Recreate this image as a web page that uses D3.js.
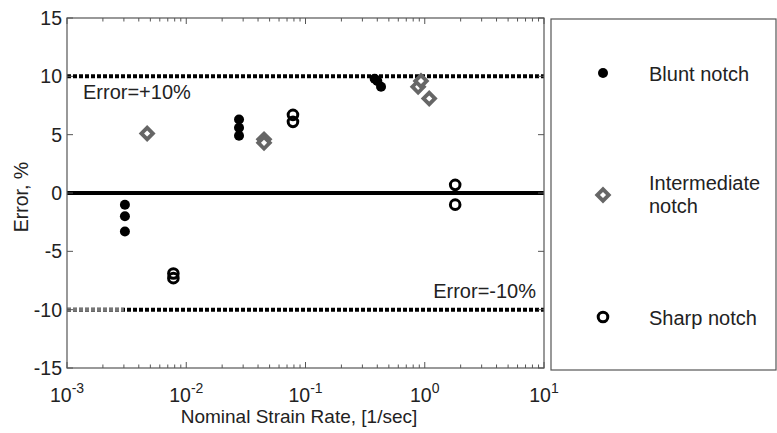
<!DOCTYPE html>
<html><head><meta charset="utf-8">
<script src="https://cdn.jsdelivr.net/npm/d3@7"></script>
<style>body{margin:0;background:#fff}svg{display:block}text{font-family:"Liberation Sans",Arial,sans-serif;fill:#222}</style>
</head><body><svg id="c" width="777" height="433"></svg>
<script>
// Data
const bluntX = [0.00306, 0.00306, 0.00306, 0.0277, 0.0277, 0.0277, 0.38, 0.40, 0.43];
const bluntY = [-1.0, -2.0, -3.3, 6.3, 5.6, 4.9, 9.8, 9.6, 9.1];
const interX = [0.0047, 0.0449, 0.0449, 0.88, 0.93, 1.09];
const interY = [5.1, 4.6, 4.3, 9.1, 9.6, 8.1];
const sharpX = [0.0078, 0.0078, 0.0785, 0.0785, 1.8, 1.8];
const sharpY = [-6.9, -7.3, 6.7, 6.1, 0.7, -1.0];
const yTicks = [-15, -10, -5, 0, 5, 10, 15];
const xTicks = [1e-3, 1e-2, 1e-1, 1e0, 1e1];
const xTickExp = ["-3", "-2", "-1", "0", "1"];
const legendLabels = [["Blunt notch"], ["Intermediate", "notch"], ["Sharp notch"]];
const refLabels = ["Error=+10%", "Error=-10%"];

const svg = d3.select("#c");
const L = 67, R = 544, T = 18, B = 368;
const x = d3.scaleLog().domain([1e-3, 1e1]).range([L, R]);
const y = d3.scaleLinear().domain([-15, 15]).range([B, T]);
const gray = "#666";

// reference lines
const dash = "4,2";
svg.append("line").attr("x1", x(1e-3)).attr("x2", x(1e1)).attr("y1", y(0)).attr("y2", y(0))
  .attr("stroke", "#000").attr("stroke-width", 4);
svg.append("line").attr("x1", x(1e-3)).attr("x2", x(1e1)).attr("y1", y(10)).attr("y2", y(10))
  .attr("stroke", "#000").attr("stroke-width", 4).attr("stroke-dasharray", dash);
svg.append("line").attr("x1", x(1e-3)).attr("x2", x(1e1)).attr("y1", y(-10)).attr("y2", y(-10))
  .attr("stroke", "#000").attr("stroke-width", 4).attr("stroke-dasharray", dash);
svg.append("line").attr("x1", x(1e-3)).attr("x2", x(0.003)).attr("y1", y(-10)).attr("y2", y(-10))
  .attr("stroke", "#777").attr("stroke-width", 4).attr("stroke-dasharray", dash);

// frame
svg.append("rect").attr("x", L).attr("y", T).attr("width", R - L).attr("height", B - T)
  .attr("fill", "none").attr("stroke", "#555").attr("stroke-width", 1.2);

// axes with inward ticks
const minor = [];
for (let e = -3; e < 1; e++) for (let k = 2; k <= 9; k++) minor.push(k * Math.pow(10, e));
const tk = svg.append("g").attr("stroke", "#555").attr("stroke-width", 1);
minor.forEach(v => {
  tk.append("line").attr("x1", x(v)).attr("x2", x(v)).attr("y1", B).attr("y2", B - 3.5);
  tk.append("line").attr("x1", x(v)).attr("x2", x(v)).attr("y1", T).attr("y2", T + 3.5);
});
xTicks.forEach(v => {
  tk.append("line").attr("x1", x(v)).attr("x2", x(v)).attr("y1", B).attr("y2", B - 6);
  tk.append("line").attr("x1", x(v)).attr("x2", x(v)).attr("y1", T).attr("y2", T + 6);
});
yTicks.forEach(v => {
  tk.append("line").attr("x1", L).attr("x2", L + 6).attr("y1", y(v)).attr("y2", y(v));
  tk.append("line").attr("x1", R).attr("x2", R - 6).attr("y1", y(v)).attr("y2", y(v));
});

// tick labels
yTicks.forEach(v => {
  svg.append("text").attr("x", L - 5).attr("y", y(v) + 7).attr("text-anchor", "end")
    .attr("font-size", 19.5).text(v);
});
xTicks.forEach((v, i) => {
  const t = svg.append("text").attr("x", x(v)).attr("y", 402).attr("text-anchor", "middle").attr("font-size", 19.5);
  t.append("tspan").text("10");
  t.append("tspan").attr("dy", -9).attr("font-size", 14).text(xTickExp[i]);
});
svg.append("text").attr("x", 299).attr("y", 423).attr("text-anchor", "middle").attr("font-size", 19)
  .text("Nominal Strain Rate, [1/sec]");
svg.append("text").attr("transform", "translate(28,197) rotate(-90)").attr("text-anchor", "middle")
  .attr("font-size", 19.5).text("Error, %");

svg.append("text").attr("x", 83).attr("y", 99).attr("font-size", 20).text(refLabels[0]);
svg.append("text").attr("x", 536).attr("y", 298).attr("text-anchor", "end").attr("font-size", 20).text(refLabels[1]);

// markers
const diamond = d3.symbol().type(d3.symbolSquare).size(66);
function drawBlunt(g, px, py) {
  g.append("circle").attr("cx", px).attr("cy", py).attr("r", 5).attr("fill", "#000");
}
function drawInter(g, px, py) {
  g.append("path").attr("d", diamond()).attr("transform", `translate(${px},${py}) rotate(45)`)
    .attr("fill", "#fff").attr("stroke", gray).attr("stroke-width", 3.8);
}
function drawSharp(g, px, py) {
  g.append("circle").attr("cx", px).attr("cy", py).attr("r", 4.8).attr("fill", "none")
    .attr("stroke", "#000").attr("stroke-width", 3);
}
const pts = svg.append("g");
interX.forEach((v, i) => drawInter(pts, x(v), y(interY[i])));
bluntX.forEach((v, i) => drawBlunt(pts, x(v), y(bluntY[i])));
sharpX.forEach((v, i) => drawSharp(pts, x(v), y(sharpY[i])));

// legend
svg.append("rect").attr("x", 551).attr("y", 19).attr("width", 225).attr("height", 351)
  .attr("fill", "none").attr("stroke", "#555").attr("stroke-width", 1.2);
const lg = svg.append("g");
const legY = [73, 195, 317];
const drawers = [drawBlunt, drawInter, drawSharp];
legendLabels.forEach((lab, i) => {
  drawers[i](lg, 603, legY[i]);
  const t = lg.append("text").attr("x", 649).attr("font-size", 20);
  if (lab.length === 1) t.attr("y", legY[i] + 8).text(lab[0]);
  else {
    t.attr("y", legY[i] - 5);
    t.append("tspan").attr("x", 649).text(lab[0]);
    t.append("tspan").attr("x", 649).attr("dy", 23).text(lab[1]);
  }
});
</script></body></html>
